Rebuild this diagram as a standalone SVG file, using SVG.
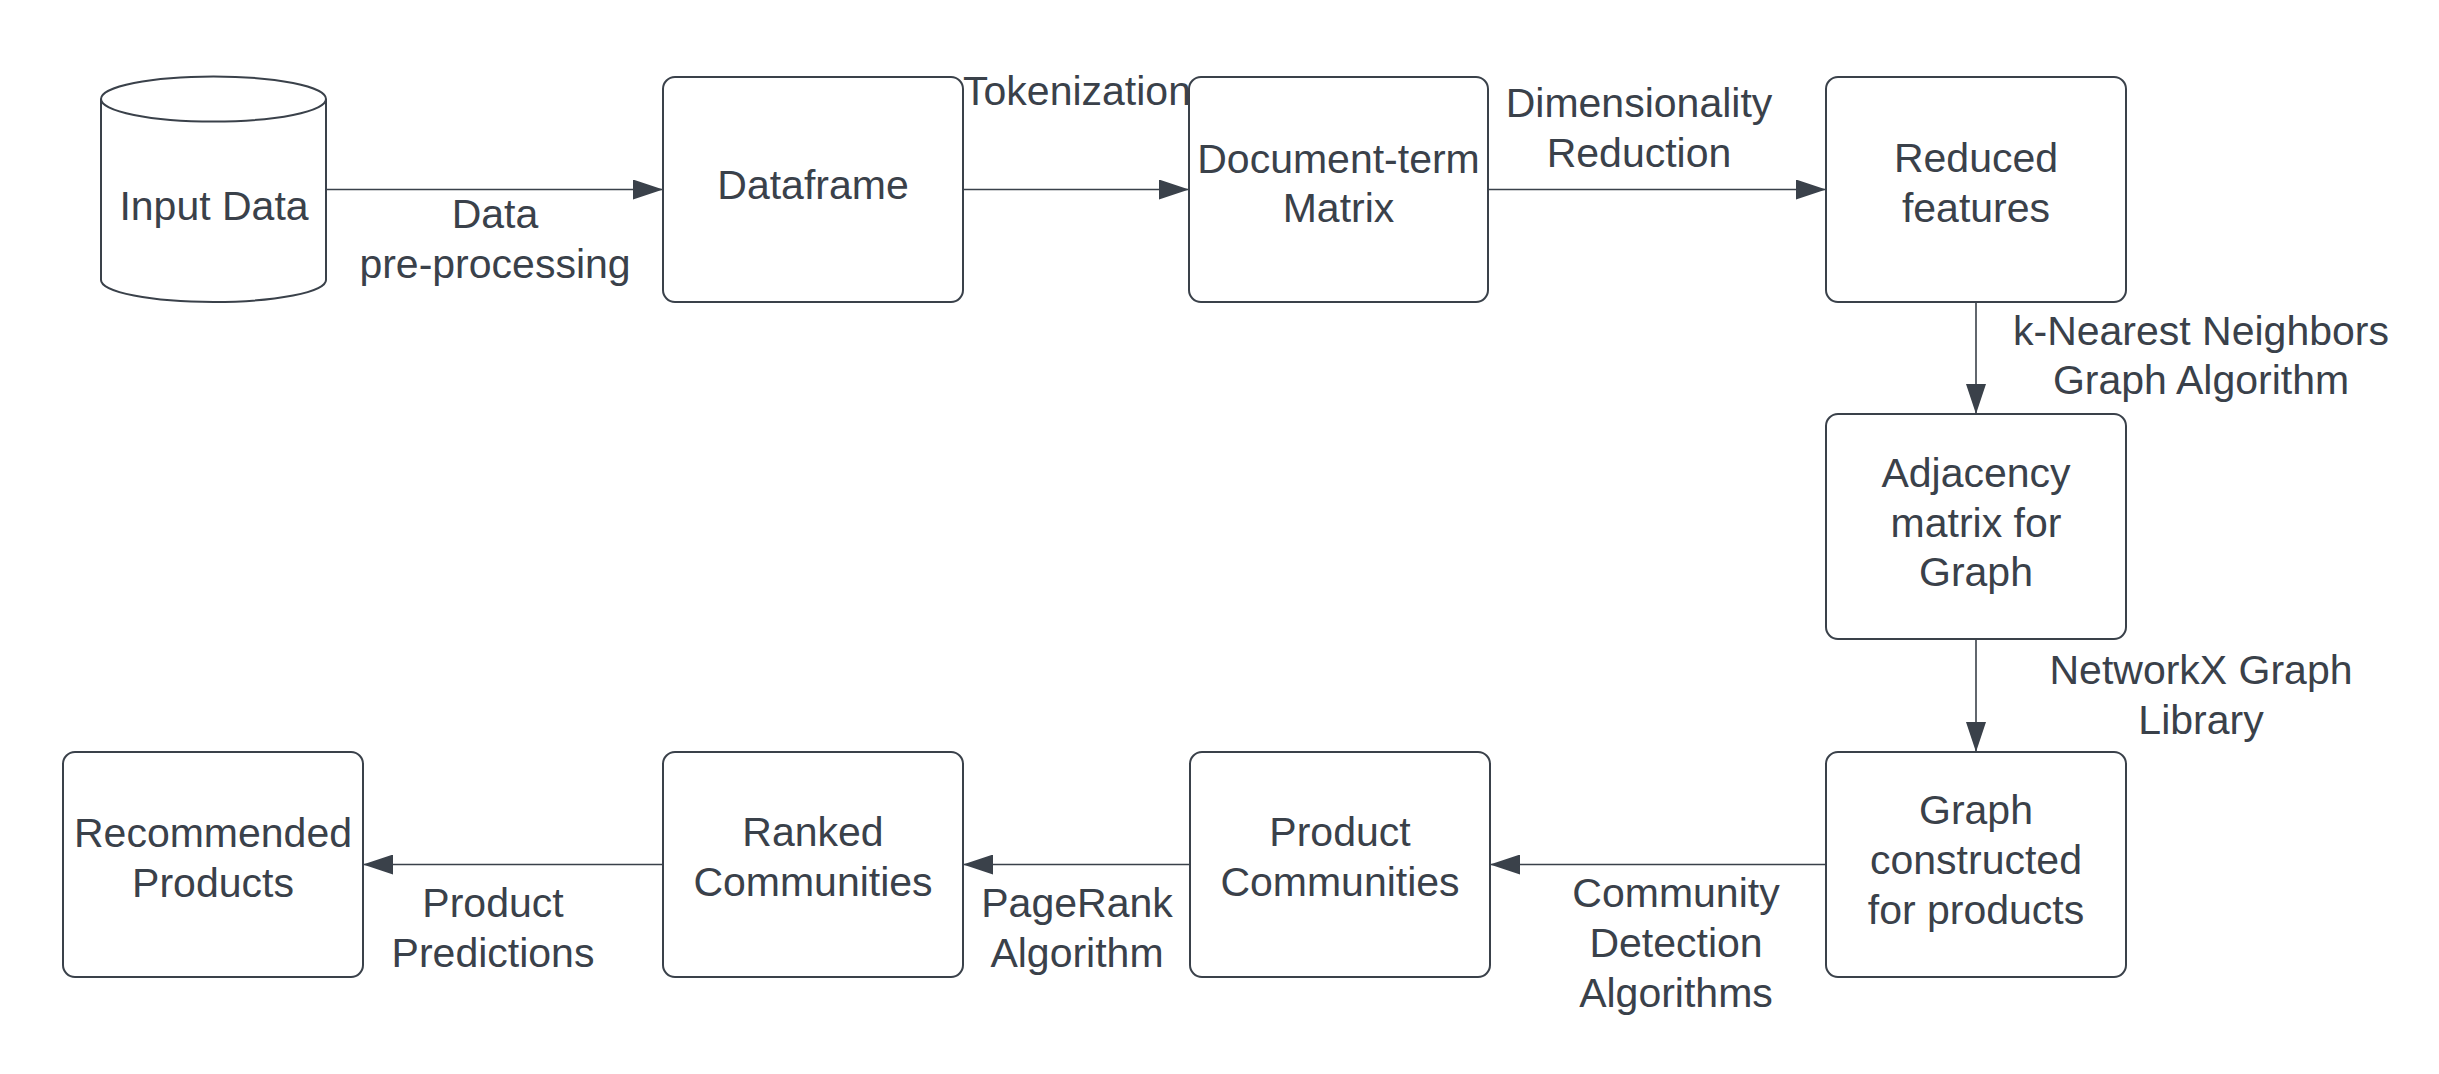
<svg xmlns="http://www.w3.org/2000/svg" width="2439" height="1074" viewBox="0 0 2439 1074">
<defs>
<style>
.box{fill:#ffffff;stroke:#3a414a;stroke-width:2}
.edge{fill:none;stroke:#3a414a;stroke-width:1.6}
.t{font-family:"Liberation Sans",Arial,sans-serif;font-size:41px;fill:#3a414a;text-anchor:middle}
</style>
<marker id="arr" viewBox="0 0 30 20" refX="30" refY="10" markerWidth="30" markerHeight="20" markerUnits="userSpaceOnUse" orient="auto">
<path d="M0,0 L30,10 L0,20 Z" fill="#3a414a"/>
</marker>
</defs>
<rect x="0" y="0" width="2439" height="1074" fill="#ffffff"/>
<g id="connectors">
<line class="edge" x1="326" y1="189.5" x2="663" y2="189.5" marker-end="url(#arr)"/>
<line class="edge" x1="963" y1="189.5" x2="1189" y2="189.5" marker-end="url(#arr)"/>
<line class="edge" x1="1488" y1="189.5" x2="1826" y2="189.5" marker-end="url(#arr)"/>
<line class="edge" x1="1976" y1="302" x2="1976" y2="414" marker-end="url(#arr)"/>
<line class="edge" x1="1976" y1="639" x2="1976" y2="752" marker-end="url(#arr)"/>
<line class="edge" x1="1826" y1="864.5" x2="1490" y2="864.5" marker-end="url(#arr)"/>
<line class="edge" x1="1190" y1="864.5" x2="963" y2="864.5" marker-end="url(#arr)"/>
<line class="edge" x1="663" y1="864.5" x2="363" y2="864.5" marker-end="url(#arr)"/>
<text class="t" x="495"><tspan x="495" y="228">Data</tspan><tspan x="495" y="278">pre-processing</tspan></text>
<text class="t" x="1077" y="105">Tokenization</text>
<text class="t" x="1639"><tspan x="1639" y="117">Dimensionality</tspan><tspan x="1639" y="167">Reduction</tspan></text>
<text class="t" x="2201"><tspan x="2201" y="345">k-Nearest Neighbors</tspan><tspan x="2201" y="394">Graph Algorithm</tspan></text>
<text class="t" x="2201"><tspan x="2201" y="684">NetworkX Graph</tspan><tspan x="2201" y="734">Library</tspan></text>
<text class="t" x="1676"><tspan x="1676" y="907">Community</tspan><tspan x="1676" y="957">Detection</tspan><tspan x="1676" y="1007">Algorithms</tspan></text>
<text class="t" x="1077"><tspan x="1077" y="917">PageRank</tspan><tspan x="1077" y="967">Algorithm</tspan></text>
<text class="t" x="493"><tspan x="493" y="917">Product</tspan><tspan x="493" y="967">Predictions</tspan></text>
</g>
<g id="input-data">
<path class="box" d="M101,99 L101,280 A112.5,22 0 0 0 326,280 L326,99"/>
<ellipse class="box" cx="213.5" cy="99" rx="112.5" ry="22.5"/>
<text class="t" x="214" y="220">Input Data</text>
</g>
<g id="dataframe">
<rect class="box" x="663" y="77" width="300" height="225" rx="12"/>
<text class="t" x="813" y="199">Dataframe</text>
</g>
<g id="document-term-matrix">
<rect class="box" x="1189" y="77" width="299" height="225" rx="12"/>
<text class="t" x="1338.5"><tspan x="1338.5" y="173">Document-term</tspan><tspan x="1338.5" y="222">Matrix</tspan></text>
</g>
<g id="reduced-features">
<rect class="box" x="1826" y="77" width="300" height="225" rx="12"/>
<text class="t" x="1976"><tspan x="1976" y="172">Reduced</tspan><tspan x="1976" y="222">features</tspan></text>
</g>
<g id="adjacency-matrix">
<rect class="box" x="1826" y="414" width="300" height="225" rx="12"/>
<text class="t" x="1976"><tspan x="1976" y="487">Adjacency</tspan><tspan x="1976" y="537">matrix for</tspan><tspan x="1976" y="586">Graph</tspan></text>
</g>
<g id="graph-constructed">
<rect class="box" x="1826" y="752" width="300" height="225" rx="12"/>
<text class="t" x="1976"><tspan x="1976" y="824">Graph</tspan><tspan x="1976" y="874">constructed</tspan><tspan x="1976" y="924">for products</tspan></text>
</g>
<g id="product-communities">
<rect class="box" x="1190" y="752" width="300" height="225" rx="12"/>
<text class="t" x="1340"><tspan x="1340" y="846">Product</tspan><tspan x="1340" y="896">Communities</tspan></text>
</g>
<g id="ranked-communities">
<rect class="box" x="663" y="752" width="300" height="225" rx="12"/>
<text class="t" x="813"><tspan x="813" y="846">Ranked</tspan><tspan x="813" y="896">Communities</tspan></text>
</g>
<g id="recommended-products">
<rect class="box" x="63" y="752" width="300" height="225" rx="12"/>
<text class="t" x="213"><tspan x="213" y="847">Recommended</tspan><tspan x="213" y="897">Products</tspan></text>
</g>
</svg>
